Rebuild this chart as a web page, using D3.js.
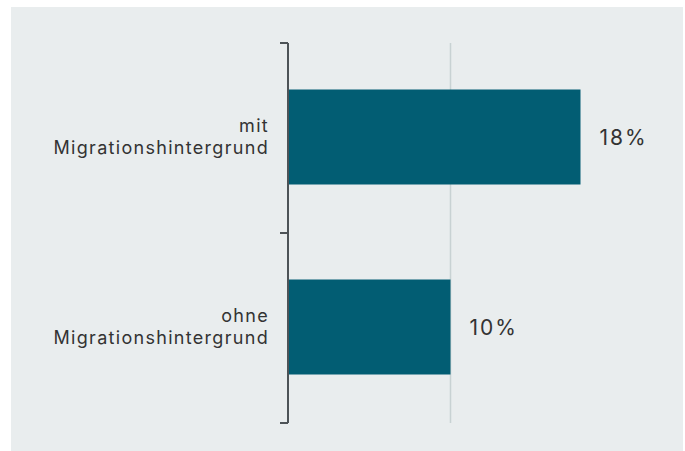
<!DOCTYPE html>
<html><head><meta charset="utf-8">
<script src="https://cdn.jsdelivr.net/npm/d3@7"></script>
<style>html,body{margin:0;padding:0;background:#fff;}</style>
</head><body>
<svg id="c" width="685" height="451"></svg>
<script>
const categories = [["mit", "Migrationshintergrund"], ["ohne", "Migrationshintergrund"]];
const values = [18, 10];
const valueLabels = ["18%", "10%"];
const gridTicks = [10];

const svg = d3.select("#c");
svg.append("rect").attr("x", 11).attr("y", 7).attr("width", 672).attr("height", 444).attr("fill", "#e9edee");

const x = d3.scaleLinear().domain([0, 10]).range([288, 450.5]);
const y = d3.scaleBand().domain(d3.range(values.length)).range([42, 422]).paddingInner(0.5).paddingOuter(0.25);

svg.append("g").selectAll("line").data(gridTicks).join("line")
  .attr("x1", d => x(d)).attr("x2", d => x(d)).attr("y1", 43).attr("y2", 423)
  .attr("stroke", "#c8d2d3").attr("stroke-width", 1.5);

svg.append("g").selectAll("rect").data(values).join("rect")
  .attr("x", x(0)).attr("y", (d, i) => y(i)).attr("width", d => x(d) - x(0)).attr("height", y.bandwidth())
  .attr("fill", "#025d73");

const boundaryTicks = d3.range(values.length + 1).map(i => 43 + i * (380 / values.length));
const ax = svg.append("g").attr("stroke", "#4d5357").attr("stroke-width", 2).attr("fill", "none");
ax.append("line").attr("x1", x(0)).attr("x2", x(0)).attr("y1", 43).attr("y2", 423);
ax.selectAll("line.t").data(boundaryTicks).join("line").attr("class", "t")
  .attr("x1", x(0) - 8).attr("x2", x(0)).attr("y1", d => d).attr("y2", d => d);

const font = "Inter, 'Open Sans', sans-serif";
const lab = svg.append("g").attr("font-family", font).attr("font-size", 18).attr("fill", "#333").attr("text-anchor", "end").attr("letter-spacing", "1.3px");
categories.forEach((c, i) => {
  const cy = y(i) + y.bandwidth() / 2;
  const t = lab.append("text").attr("x", 269).attr("y", cy - 5);
  t.append("tspan").attr("x", 269).attr("dy", 0).text(c[0]);
  t.append("tspan").attr("x", 269).attr("dy", 22).text(c[1]);
});

svg.append("g").attr("font-family", font).attr("font-size", 21).attr("fill", "#333").attr("letter-spacing", "2px")
  .selectAll("text").data(values).join("text")
  .attr("x", d => x(d) + 19).attr("y", (d, i) => y(i) + y.bandwidth() / 2 + 8)
  .text((d, i) => valueLabels[i]);
</script>
</body></html>
